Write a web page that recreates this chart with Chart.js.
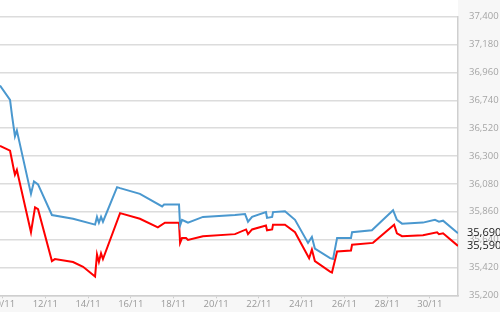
<!DOCTYPE html>
<html>
<head>
<meta charset="utf-8">
<script src="https://cdn.jsdelivr.net/npm/chart.js@4.4.0/dist/chart.umd.min.js"></script>
<style>
  html, body { margin: 0; padding: 0; background: #fff; }
  #wrap { position: relative; width: 500px; height: 312px; overflow: hidden; }
  #chart { position: absolute; left: -40px; top: 0; }
</style>
</head>
<body>
<div id="wrap"><canvas id="chart" width="540" height="312"></canvas></div>
<script>
// days of November (fractional), prices
const blueDays = [9.88, 10.35, 10.44, 10.58, 10.67, 10.72, 11.33, 11.47, 11.66, 12.31, 13.30, 14.33, 14.42, 14.51, 14.61, 14.70,
    15.36, 15.50, 16.43, 17.47, 17.56, 18.26, 18.31, 18.40, 18.59, 18.68, 19.38, 20.88, 21.35, 21.49, 21.68, 22.33, 22.38,
    22.62, 22.66, 23.22, 23.69, 24.30, 24.48, 24.62, 25.33, 25.47, 25.66, 26.31, 26.36, 27.29, 28.28, 28.46, 28.70, 29.68,
    30.24, 30.43, 30.62, 31.32];
const blueValues = [36857, 36743, 36622, 36455, 36501, 36463, 36001, 36099, 36076, 35834, 35804, 35758, 35819, 35773, 35819, 35781,
    36054, 36046, 36001, 35902, 35917, 35917, 35751, 35796, 35781, 35774, 35819, 35834, 35842, 35781, 35819, 35857, 35811,
    35819, 35857, 35864, 35796, 35614, 35660, 35569, 35493, 35486, 35652, 35652, 35698, 35713, 35872, 35796, 35766, 35774,
    35796, 35781, 35789, 35690];

const redDays = [9.88, 10.35, 10.44, 10.53, 10.58, 10.67, 10.72, 11.33, 11.52, 11.66, 12.31, 12.45, 13.30, 13.77, 14.33, 14.42,
    14.51, 14.61, 14.70, 15.50, 16.43, 17.27, 17.60, 18.26, 18.31, 18.40, 18.59, 18.68, 19.38, 20.88, 21.40, 21.49, 21.68,
    22.33, 22.38, 22.62, 22.66, 23.22, 23.69, 24.35, 24.48, 24.62, 25.33, 25.42, 25.66, 26.31, 26.36, 27.34, 28.33, 28.46,
    28.70, 29.68, 30.34, 30.43, 30.62, 31.32];
const redValues = [36380, 36342, 36266, 36190, 36152, 36190, 36152, 35698, 35895, 35880, 35470, 35486, 35463, 35425, 35349, 35523,
    35463, 35531, 35486, 35849, 35804, 35736, 35773, 35773, 35614, 35652, 35652, 35637, 35667, 35683, 35720, 35683, 35720,
    35751, 35713, 35720, 35758, 35758, 35698, 35493, 35561, 35470, 35387, 35380, 35546, 35554, 35599, 35614, 35758, 35690,
    35667, 35675, 35698, 35683, 35690, 35590];

const xTickDays = [10, 12, 14, 16, 18, 20, 22, 24, 26, 28, 30];
const yMin = 35200, yMax = 37400, yStep = 220;

const fmt = v => Math.round(v).toLocaleString('en-US');

const panelBg = {
    id: 'panelBg',
    beforeDraw(chart) {
        const { ctx, chartArea: a, width, height } = chart;
        ctx.save();
        ctx.fillStyle = '#ffffff';
        ctx.fillRect(0, 0, width, height);
        ctx.fillStyle = '#f7f7f7';
        ctx.fillRect(a.right, 0, width - a.right, height);
        ctx.fillRect(0, a.bottom, width, height - a.bottom);
        ctx.restore();
    }
};

// last prices written in the right panel
const lastLabels = {
    id: 'lastLabels',
    afterDraw(chart) {
        const { ctx, chartArea: a } = chart;
        const y = chart.scales.y;
        ctx.save();
        ctx.font = '11px "Open Sans"';
        ctx.fillStyle = '#1a1a1a';
        ctx.textBaseline = 'middle';
        ctx.textAlign = 'left';
        ctx.fillText(fmt(blueValues[blueValues.length - 1]), a.right + 9, y.getPixelForValue(blueValues[blueValues.length - 1]));
        ctx.fillText(fmt(redValues[redValues.length - 1]), a.right + 9, y.getPixelForValue(redValues[redValues.length - 1]));
        ctx.restore();
    }
};

new Chart(document.getElementById('chart'), {
    type: 'line',
    data: {
        datasets: [{
            data: blueDays.map((d, i) => ({ x: d, y: blueValues[i] })),
            borderColor: '#4a98cf',
            borderWidth: 2,
            pointRadius: 0,
            tension: 0
        }, {
            data: redDays.map((d, i) => ({ x: d, y: redValues[i] })),
            borderColor: '#ff0000',
            borderWidth: 2,
            pointRadius: 0,
            tension: 0
        }]
    },
    options: {
        responsive: false,
        animation: false,
        layout: { padding: { left: 40, top: 7, right: 0, bottom: 0 } },
        plugins: { legend: { display: false }, tooltip: { enabled: false } },
        scales: {
            x: {
                type: 'linear',
                min: blueDays[0],
                max: blueDays[blueDays.length - 1],
                afterBuildTicks: s => { s.ticks = xTickDays.map(v => ({ value: v })); },
                afterFit: s => { s.height = 14; },
                grid: { drawOnChartArea: false, drawTicks: true, tickLength: 3, color: '#cccccc' },
                border: { color: '#cfcfcf', width: 1.5 },
                ticks: {
                    autoSkip: false,
                    maxRotation: 0,
                    padding: 0,
                    color: '#999999',
                    font: { family: '"Open Sans"', size: 9.5 },
                    callback: v => v + '/11'
                }
            },
            y: {
                position: 'right',
                min: yMin,
                max: yMax,
                afterFit: s => { s.width = 42; },
                grid: { color: '#dcdcdc', lineWidth: 1.5, drawTicks: false },
                border: { color: '#cfcfcf', width: 1.5 },
                ticks: {
                    stepSize: yStep,
                    padding: 11,
                    color: '#a5a5a5',
                    font: { family: '"Open Sans"', size: 9.5 },
                    callback: v => fmt(v)
                }
            }
        }
    },
    plugins: [panelBg, lastLabels]
});
</script>
</body>
</html>
